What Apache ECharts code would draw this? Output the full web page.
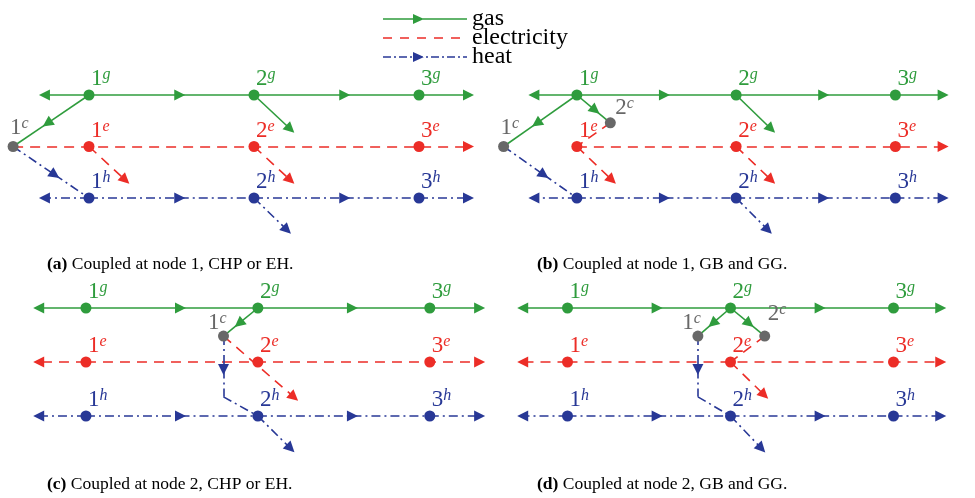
<!DOCTYPE html>
<html><head><meta charset="utf-8">
<script src="https://cdn.jsdelivr.net/npm/echarts@6/dist/echarts.min.js"></script>
<style>html,body{margin:0;padding:0;background:#fff}#c{width:975px;height:498px}</style>
</head><body><div id="c"></div>
<script>
// ================= DATA =================
const carriers = ['gas', 'electricity', 'heat'];
const tags = ['(a)', '(b)', '(c)', '(d)'];
const captions = ['Coupled at node 1, CHP or EH.', 'Coupled at node 1, GB and GG.',
                  'Coupled at node 2, CHP or EH.', 'Coupled at node 2, GB and GG.'];

// node positions: x = bus node index, y = layer (gas 2, electricity 1, heat 0)
const busPoints = {'1g':[1,2],'2g':[2,2],'3g':[3,2],'1e':[1,1],'2e':[2,1],'3e':[3,1],'1h':[1,0],'2h':[2,0],'3h':[3,0]};
// coupling at node 1 (panels a, b)
const pointsN1 = {'1c':[0.54,1.0],'2c':[1.21,1.46],
  'gL':[0.73,2],'gR':[3.30,2],'eR':[3.30,1],'hL':[0.73,0],'hR':[3.30,0],
  'gOut':[2.22,1.34],'e1Out':[1.22,0.35],'e2Out':[2.22,0.35],'hOut':[2.20,-0.62]};
// coupling at node 2 (panels c, d)
const pointsN2 = {'1c':[1.80,1.48],'2c':[2.21,1.48],
  'gL':[0.725,2],'gR':[3.29,2],'eL':[0.725,1],'eR':[3.29,1],'hL':[0.725,0],'hR':[3.29,0],
  'bend':[1.80,0.355],'eOutC':[2.21,0.35],'eOutD':[2.207,0.39],'hOut':[2.19,-0.60]};

const nodesA = ['1g','2g','3g','1e','2e','3e','1h','2h','3h','1c'];
const nodesB = ['1g','2g','3g','1e','2e','3e','1h','2h','3h','1c','2c'];
const nodesC = ['1g','2g','3g','1e','2e','3e','1h','2h','3h','1c'];
const nodesD = ['1g','2g','3g','1e','2e','3e','1h','2h','3h','1c','2c'];

// edges: [carrier, from, to, arrow]
const edgesA = [
 ['g','1g','gL','end'],['g','1g','2g','mid'],['g','2g','3g','mid'],['g','3g','gR','end'],['g','1g','1c','mid'],['g','2g','gOut','end'],
 ['e','1c','eR','end'],['e','1e','e1Out','end'],['e','2e','e2Out','end'],
 ['h','1h','hL','end'],['h','1h','2h','mid'],['h','2h','3h','mid'],['h','3h','hR','end'],['h','1c','1h','mid'],['h','2h','hOut','end']];
const edgesB = [
 ['g','1g','gL','end'],['g','1g','2g','mid'],['g','2g','3g','mid'],['g','3g','gR','end'],['g','1g','1c','mid'],['g','1g','2c','mid'],['g','2g','gOut','end'],
 ['e','1e','eR','end'],['e','2c','1e','none'],['e','1e','e1Out','end'],['e','2e','e2Out','end'],
 ['h','1h','hL','end'],['h','1h','2h','mid'],['h','2h','3h','mid'],['h','3h','hR','end'],['h','1c','1h','mid'],['h','2h','hOut','end']];
const edgesC = [
 ['g','1g','gL','end'],['g','1g','2g','mid'],['g','2g','3g','mid'],['g','3g','gR','end'],['g','2g','1c','mid'],
 ['e','1e','eL','end'],['e','1e','eR','end'],['e','1c','eOutC','end'],
 ['h','1h','hL','end'],['h','1h','2h','mid'],['h','2h','3h','mid'],['h','3h','hR','end'],['h','1c','bend','mid'],['h','bend','2h','none'],['h','2h','hOut','end']];
const edgesD = [
 ['g','1g','gL','end'],['g','1g','2g','mid'],['g','2g','3g','mid'],['g','3g','gR','end'],['g','2g','1c','mid'],['g','2g','2c','mid'],
 ['e','1e','eL','end'],['e','1e','eR','end'],['e','2c','2e','none'],['e','2e','eOutD','end'],
 ['h','1h','hL','end'],['h','1h','2h','mid'],['h','2h','3h','mid'],['h','3h','hR','end'],['h','1c','bend','mid'],['h','bend','2h','none'],['h','2h','hOut','end']];

// ================= STYLE =================
const F = '"Liberation Serif", "DejaVu Serif", serif';
const COL = {g:'#2f9c3d', e:'#ec2d27', h:'#283896', c:'#686868'};
const carrierKey = {gas:'g', electricity:'e', heat:'h'};
const LINE_TYPE = {g:'solid', e:[10,7], h:[9,4,2,4]};
const LW = 1.6;
const MID_T = 0.55;

const grids = [
  {left:6.5, top:43.5, width:495, height:206},
  {left:497.25, top:43.5, width:496.5, height:206},
  {left:-4.75, top:254, width:520.5, height:216},
  {left:486, top:254, width:522, height:216}
];
const labelPlace = [
  {'1c':{dx:-3,dy:-7,align:'left'}},
  {'1c':{dx:-3,dy:-7,align:'left'},'2c':{dx:5,dy:-3,align:'left'}},
  {'1c':{dx:3,dy:-1,align:'right'}},
  {'1c':{dx:3,dy:-1,align:'right'},'2c':{dx:3,dy:-10,align:'left'}}
];
const defaultPlace = {dx:2, dy:-4, align:'left'};
const SYM = 11;

const panels = [
  {pts:Object.assign({}, busPoints, pointsN1), nodes:nodesA, edges:edgesA},
  {pts:Object.assign({}, busPoints, pointsN1), nodes:nodesB, edges:edgesB},
  {pts:Object.assign({}, busPoints, pointsN2), nodes:nodesC, edges:edgesC},
  {pts:Object.assign({}, busPoints, pointsN2), nodes:nodesD, edges:edgesD}
];

function lerp(a, b, t){ return [a[0]+(b[0]-a[0])*t, a[1]+(b[1]-a[1])*t]; }

const series = [];
panels.forEach((p, pi) => {
  carriers.forEach(name => {
    const k = carrierKey[name];
    const arrow = [], plain = [];
    p.edges.filter(e => e[0] === k).forEach(([, f, t, m]) => {
      const A = p.pts[f], B = p.pts[t];
      if (m === 'end') arrow.push({coords:[A, B]});
      else if (m === 'mid') { const M = lerp(A, B, MID_T); arrow.push({coords:[A, M]}); plain.push({coords:[M, B]}); }
      else plain.push({coords:[A, B]});
    });
    const base = {type:'lines', name, coordinateSystem:'cartesian2d', xAxisIndex:pi, yAxisIndex:pi, z:2,
      silent:true, lineStyle:{color:COL[k], width:LW, type:LINE_TYPE[k], opacity:1, curveness:0}};
    series.push(Object.assign({}, base, {symbol:['none','triangle'], symbolSize:[9,11], data:arrow}));
    series.push(Object.assign({}, base, {symbol:'none', data:plain}));
  });
  // nodes
  series.push({
    type:'scatter', xAxisIndex:pi, yAxisIndex:pi, z:5, symbolSize:SYM, silent:true,
    data: p.nodes.map(n => {
      const kind = n[1];
      const col = COL[kind];
      const pl = (labelPlace[pi][n]) || defaultPlace;
      return {
        value: p.pts[n], name: n,
        itemStyle:{color:col, opacity:1},
        label:{show:true, formatter:'{n|' + n[0] + '}{s|' + kind + '}',
          position:[SYM/2 + pl.dx, SYM/2 + pl.dy], align:pl.align, verticalAlign:'bottom',
          rich:{n:{fontFamily:F, fontSize:23, lineHeight:24, color:col},
                s:{fontFamily:F, fontSize:16, lineHeight:16, fontStyle:'italic', color:col, verticalAlign:'top'}}}
      };
    })
  });
});

// legend icons (drawn as path shapes)
function dashRects(pattern, len, y0, y1){
  let s = '', x = 0, i = 0;
  while (x < len) {
    const w = pattern[i % pattern.length];
    if (i % 2 === 0) { const x2 = Math.min(len, x + w); s += `M${x},${y0}L${x2},${y0}L${x2},${y1}L${x},${y1}Z`; }
    x += w; i++;
  }
  return s;
}
const tri = 'M30,0L41,5L30,10Z';
const frame = 'M0,0L0.01,0L0,0.01ZM84,10L83.99,10L84,9.99Z';
const legendIcons = {
  gas: 'path://' + frame + 'M0,4.2L84,4.2L84,5.8L0,5.8Z' + tri,
  electricity: 'path://' + frame + dashRects([9,8], 84, 4.2, 5.8),
  heat: 'path://' + frame + dashRects([8,3,2,3], 84, 4.2, 5.8) + tri
};

const option = {
  animation:false,
  backgroundColor:'#fff',
  grid: grids.map(g => Object.assign({containLabel:false, show:false}, g)),
  xAxis: grids.map((g, i) => ({type:'value', gridIndex:i, min:0.5, max:3.5, show:false})),
  yAxis: grids.map((g, i) => ({type:'value', gridIndex:i, min:-1, max:3, show:false})),
  title: tags.map((t, i) => ({
    text: '{b|' + t + '} ' + captions[i],
    left: i % 2 === 0 ? 47 : 537, top: i < 2 ? 255 : 475, padding:0,
    textStyle:{fontFamily:F, fontSize:17.5, fontWeight:'normal', color:'#000',
      rich:{b:{fontFamily:F, fontSize:17.5, fontWeight:'bold', color:'#000'}}}
  })),
  legend: {
    orient:'vertical', left:383, top:2, padding:0, itemWidth:84, itemHeight:10, itemGap:-15,
    selectedMode:false,
    textStyle:{fontFamily:F, fontSize:24, lineHeight:24, color:'#000', padding:[0,0,10,0]},
    data: carriers.map(c => ({name:c, icon:legendIcons[c], itemStyle:{color:COL[carrierKey[c]], borderWidth:0}}))
  },
  series
};
const chart = echarts.init(document.getElementById('c'), null, {renderer:'canvas'});
chart.setOption(option);
</script></body></html>
